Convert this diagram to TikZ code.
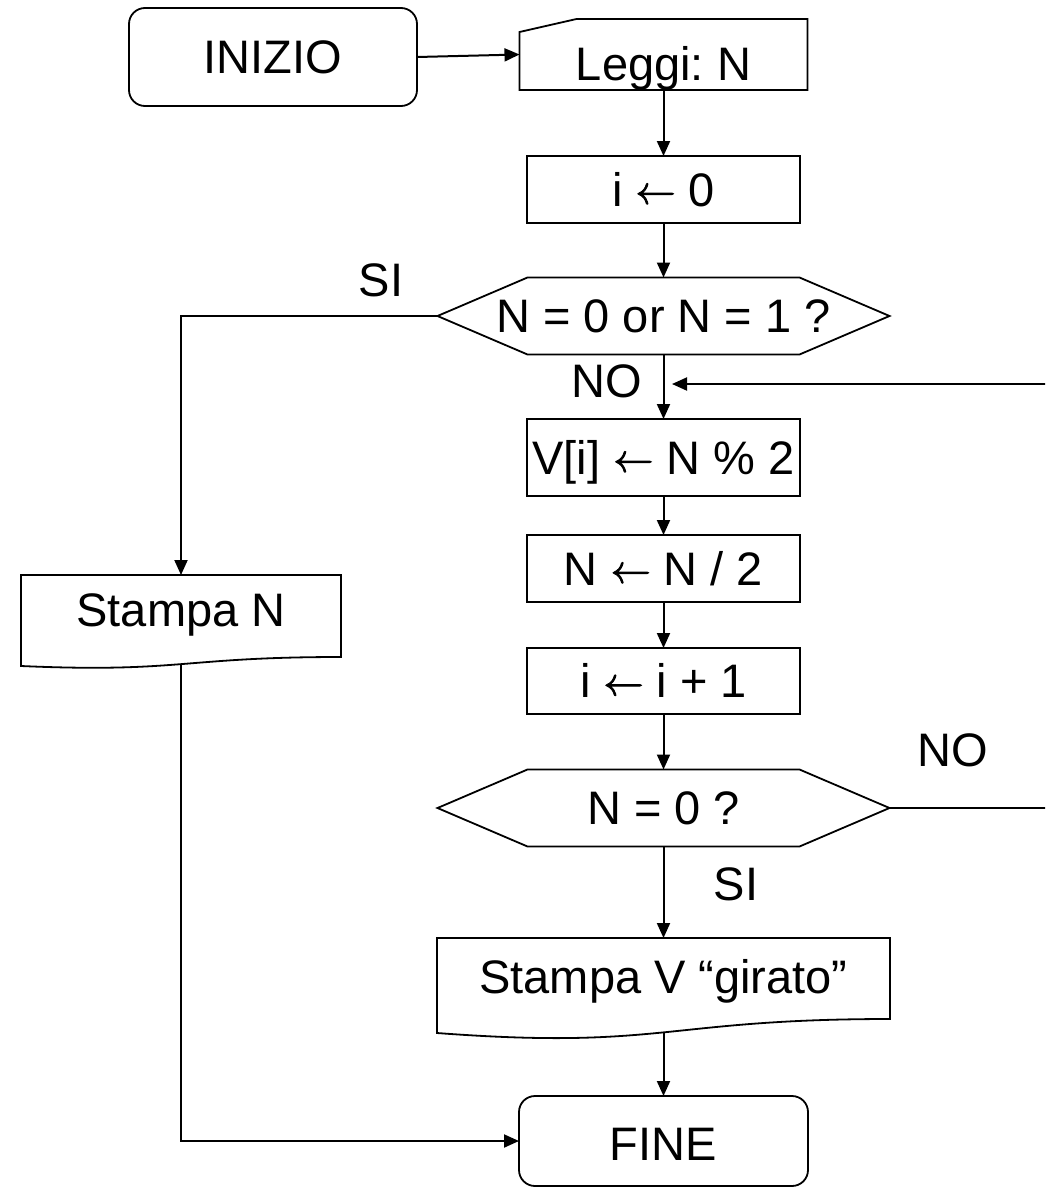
\documentclass[tikz,border=0pt]{standalone}
\usepackage{fontspec}
\setmainfont{Liberation Sans}
\usetikzlibrary{arrows.meta,calc}
\newcommand{\larr}{\raisebox{2.5pt}{\scalebox{4.0}{\normalsize\special{pdf:literal direct 2 Tr 0.22 w}$\leftarrow$\special{pdf:literal direct 0 Tr}}}}
\begin{document}
\frenchspacing
\begin{tikzpicture}[x=1pt,y=-1pt,
  shapebox/.style={inner sep=0pt, outer sep=0pt, font=\fontsize{47}{56}\selectfont\frenchspacing, text height=33.6pt, text depth=0pt},
  procbox/.style={shapebox, draw, line width=1.8pt},
  termbox/.style={procbox, rounded corners=16pt},
  outline/.style={draw, line width=1.8pt, line join=miter},
  conn/.style={line width=2pt, -{Triangle[length=15pt,width=13pt]}},
  lbl/.style={inner sep=0pt, font=\fontsize{47}{56}\selectfont, text height=33.6pt, text depth=0pt}]
\useasboundingbox (0,0) rectangle (1045,1189);
\fill[white] (0,0) rectangle (1045,1189);
\clip (0,0) rectangle (1045,1189);

% nodes
\node[termbox, minimum width=288pt, minimum height=98pt] (inizio) at (273,57) {INIZIO};
\node[shapebox, minimum width=288pt, minimum height=71pt] (leggi) at (663.5,54.5) {\raisebox{-8.8pt}{Leggi: N}};
\draw[outline] (leggi.south west) -- ($(leggi.north west)+(0,13)$) -- ($(leggi.north west)+(57,0)$) -- (leggi.north east) -- (leggi.south east) -- cycle;

\node[procbox, minimum width=273pt, minimum height=67pt] (i0) at (663.5,189.5) {i \larr{} 0};

\node[shapebox, minimum width=452pt, minimum height=77pt] (h1) at (663.5,316) {N = 0 or N = 1 ?};
\draw[outline] (h1.west) -- ($(h1.north west)+(90,0)$) -- ($(h1.north east)+(-90,0)$) -- (h1.east) -- ($(h1.south east)+(-90,0)$) -- ($(h1.south west)+(90,0)$) -- cycle;

\node[procbox, minimum width=273pt, minimum height=77pt] (vi) at (663.5,457.5) {V[i] \larr{} N \% 2};
\node[procbox, minimum width=273pt, minimum height=67pt] (nh) at (663.5,568.5) {N \larr{} N / 2};
\node[procbox, minimum width=273pt, minimum height=66pt] (i1) at (663.5,681) {i \larr{} i + 1};

\node[shapebox, minimum width=452pt, minimum height=77pt] (h2) at (663.5,808) {N = 0 ?};
\draw[outline] (h2.west) -- ($(h2.north west)+(90,0)$) -- ($(h2.north east)+(-90,0)$) -- (h2.east) -- ($(h2.south east)+(-90,0)$) -- ($(h2.south west)+(90,0)$) -- cycle;

\node[shapebox, minimum width=453pt, minimum height=95pt] (sv) at (663.5,985.5) {\raisebox{9pt}{Stampa V “girato”}};
\draw[outline] (sv.south west) -- (sv.north west) -- (sv.north east) -- ($(sv.south east)+(0,-14)$)
  .. controls ($(sv.south)+(0,-14)$) and ($(sv.south)+(0,17)$) .. (sv.south west) -- cycle;

\node[shapebox, minimum width=320pt, minimum height=91pt] (sn) at (181,620.5) {\raisebox{11pt}{Stampa N}};
\draw[outline] (sn.south west) -- (sn.north west) -- (sn.north east) -- ($(sn.south east)+(0,-9)$)
  .. controls ($(sn.south)+(0,-9)$) and ($(sn.south)+(0,7)$) .. (sn.south west) -- cycle;

\node[termbox, minimum width=289pt, minimum height=90pt] (fine) at (663.5,1141) {\raisebox{-3pt}{FINE}};

% labels
\node[lbl] (si1) at (381,280) {SI};
\node[lbl] (no1) at (607,381) {NO};
\node[lbl] (no2) at (953,750) {NO};
\node[lbl] (si2) at (736,884) {SI};

% connector end points
\coordinate (loopend) at (672,384);
\coordinate (snb) at ($(sn.south)+(0,-2)$);
\coordinate (svb) at ($(sv.south)+(0,-1)$);

% connectors
\draw[conn] (inizio.east) -- (leggi.west);
\draw[conn] (leggi.south) -- (i0.north);
\draw[conn] (i0.south) -- (h1.north);
\draw[conn] (h1.south) -- (vi.north);
\draw[conn] (vi.south) -- (nh.north);
\draw[conn] (nh.south) -- (i1.north);
\draw[conn] (i1.south) -- (h2.north);
\draw[conn] (h2.south) -- (sv.north);
\draw[conn] (svb) -- (fine.north);
\draw[conn] (h1.west) -| (sn.north);
\draw[conn] (snb) |- (fine.west);
\draw[conn] (h2.east) -- ++(170,0) |- (loopend);
\end{tikzpicture}
\end{document}
